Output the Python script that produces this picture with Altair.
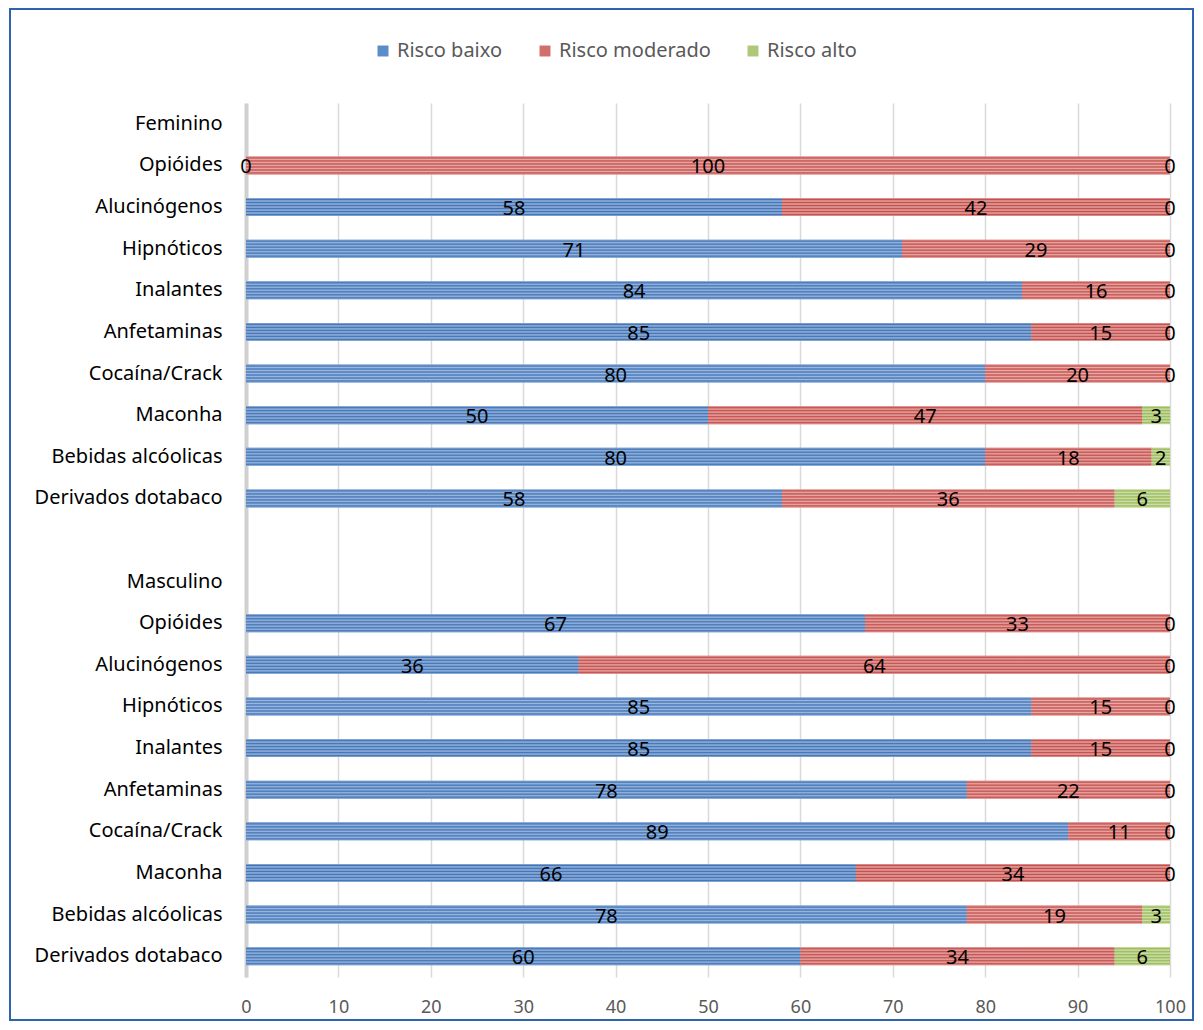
import altair as alt
import pandas as pd

substances = ["Opióides", "Alucinógenos", "Hipnóticos", "Inalantes", "Anfetaminas",
              "Cocaína/Crack", "Maconha", "Bebidas alcóolicas", "Derivados dotabaco"]
series = ["Risco baixo", "Risco moderado", "Risco alto"]

fem_baixo = [0, 58, 71, 84, 85, 80, 50, 80, 58]
fem_moderado = [100, 42, 29, 16, 15, 20, 47, 18, 36]
fem_alto = [0, 0, 0, 0, 0, 0, 3, 2, 6]

masc_baixo = [67, 36, 85, 85, 78, 89, 66, 78, 60]
masc_moderado = [33, 64, 15, 15, 22, 11, 34, 19, 34]
masc_alto = [0, 0, 0, 0, 0, 0, 0, 3, 6]

x_ticks = [0, 10, 20, 30, 40, 50, 60, 70, 80, 90, 100]

dark = {"Risco baixo": "#4374b5", "Risco moderado": "#c24f4c", "Risco alto": "#99b957"}
light = {"Risco baixo": "#9ab8e0", "Risco moderado": "#e9aaa8", "Risco alto": "#d0e1ae"}
solid = {"Risco baixo": "#5b8bc8", "Risco moderado": "#d06f6c", "Risco alto": "#adc978"}

rows = []
order = ["Feminino"]
for prefix, grp in [("F", (fem_baixo, fem_moderado, fem_alto)),
                    ("M", (masc_baixo, masc_moderado, masc_alto))]:
    if prefix == "M":
        order += ["gap", "Masculino"]
    for i, s in enumerate(substances):
        key = f"{prefix}|{s}"
        order.append(key)
        start = 0
        for j, name in enumerate(series):
            v = grp[j][i]
            rows.append({"key": key, "series": name, "value": v,
                         "start": start, "end": start + v, "mid": start + v / 2,
                         "sorder": j})
            start += v

df = pd.DataFrame(rows)

label_expr = ("datum.value == 'gap' ? '' : (indexof(datum.value, '|') >= 0 ? "
              "split(datum.value, '|')[1] : datum.value)")

W, H = 924, 874
FONT = "Noto Sans"
y_enc = alt.Y("key:N", sort=order,
              scale=alt.Scale(domain=order, paddingInner=0, paddingOuter=0),
              axis=alt.Axis(title=None, labelExpr=label_expr, ticks=False,
                            domainColor="#d0d0d0", domainWidth=4, labelPadding=24,
                            labelFontSize=20, labelColor="#000000", labelLimit=0,
                            labelFont=FONT, grid=False))
x_enc_args = dict(
    scale=alt.Scale(domain=[0, 100], nice=False),
    axis=alt.Axis(title=None, values=x_ticks, grid=True, gridColor="#d9d9d9",
                  gridWidth=1.5, domain=False, ticks=False, labelPadding=21,
                  labelFlush=False, labelFontSize=18, labelColor="#595959",
                  labelFont=FONT))

base = alt.Chart(df)

solid_bars = base.mark_bar(size=18).encode(
    x=alt.X("start:Q", **x_enc_args),
    x2="end:Q",
    y=y_enc,
    color=alt.Color("series:N", sort=series,
                    scale=alt.Scale(domain=series, range=[solid[s] for s in series]),
                    legend=alt.Legend(title=None, orient="none", direction="horizontal",
                                      legendX=127, legendY=-62, symbolType="square",
                                      symbolSize=120, labelFontSize=20,
                                      labelColor="#595959", labelFont=FONT,
                                      columnPadding=32, labelOffset=4,
                                      symbolStrokeWidth=0)),
)


def stripes(name, n=6):
    stops = []
    for k in range(n):
        stops.append(alt.GradientStop(offset=k / n, color=light[name]))
        stops.append(alt.GradientStop(offset=(k + 0.5) / n, color=dark[name]))
    stops.append(alt.GradientStop(offset=1, color=light[name]))
    return alt.LinearGradient(gradient="linear", stops=stops, x1=0, x2=0, y1=0, y2=1)


striped = [
    base.transform_filter(alt.datum.series == s).mark_bar(size=18, color=stripes(s)).encode(
        x="start:Q", x2="end:Q", y=alt.Y("key:N", sort=order))
    for s in series
]

labels = base.mark_text(fontSize=20, color="#000000", baseline="middle", dy=2,
                        font=FONT).encode(
    x="mid:Q", y=alt.Y("key:N", sort=order), text="value:Q")

border = alt.Chart(pd.DataFrame({"a": [0]})).mark_rect(
    filled=False, stroke="#2e63ad", strokeWidth=2).encode(
    x=alt.value(-236), x2=alt.value(947), y=alt.value(-94), y2=alt.value(917))

chart = alt.layer(solid_bars, *striped, labels, border).properties(
    width=W, height=H,
    autosize=alt.AutoSizeParams(type="none"),
    padding={"left": 238, "top": 95, "right": 25, "bottom": 45},
    background="white",
).configure_view(stroke=None)

chart.save("out.html", embed_options={"renderer": "svg", "actions": False})
